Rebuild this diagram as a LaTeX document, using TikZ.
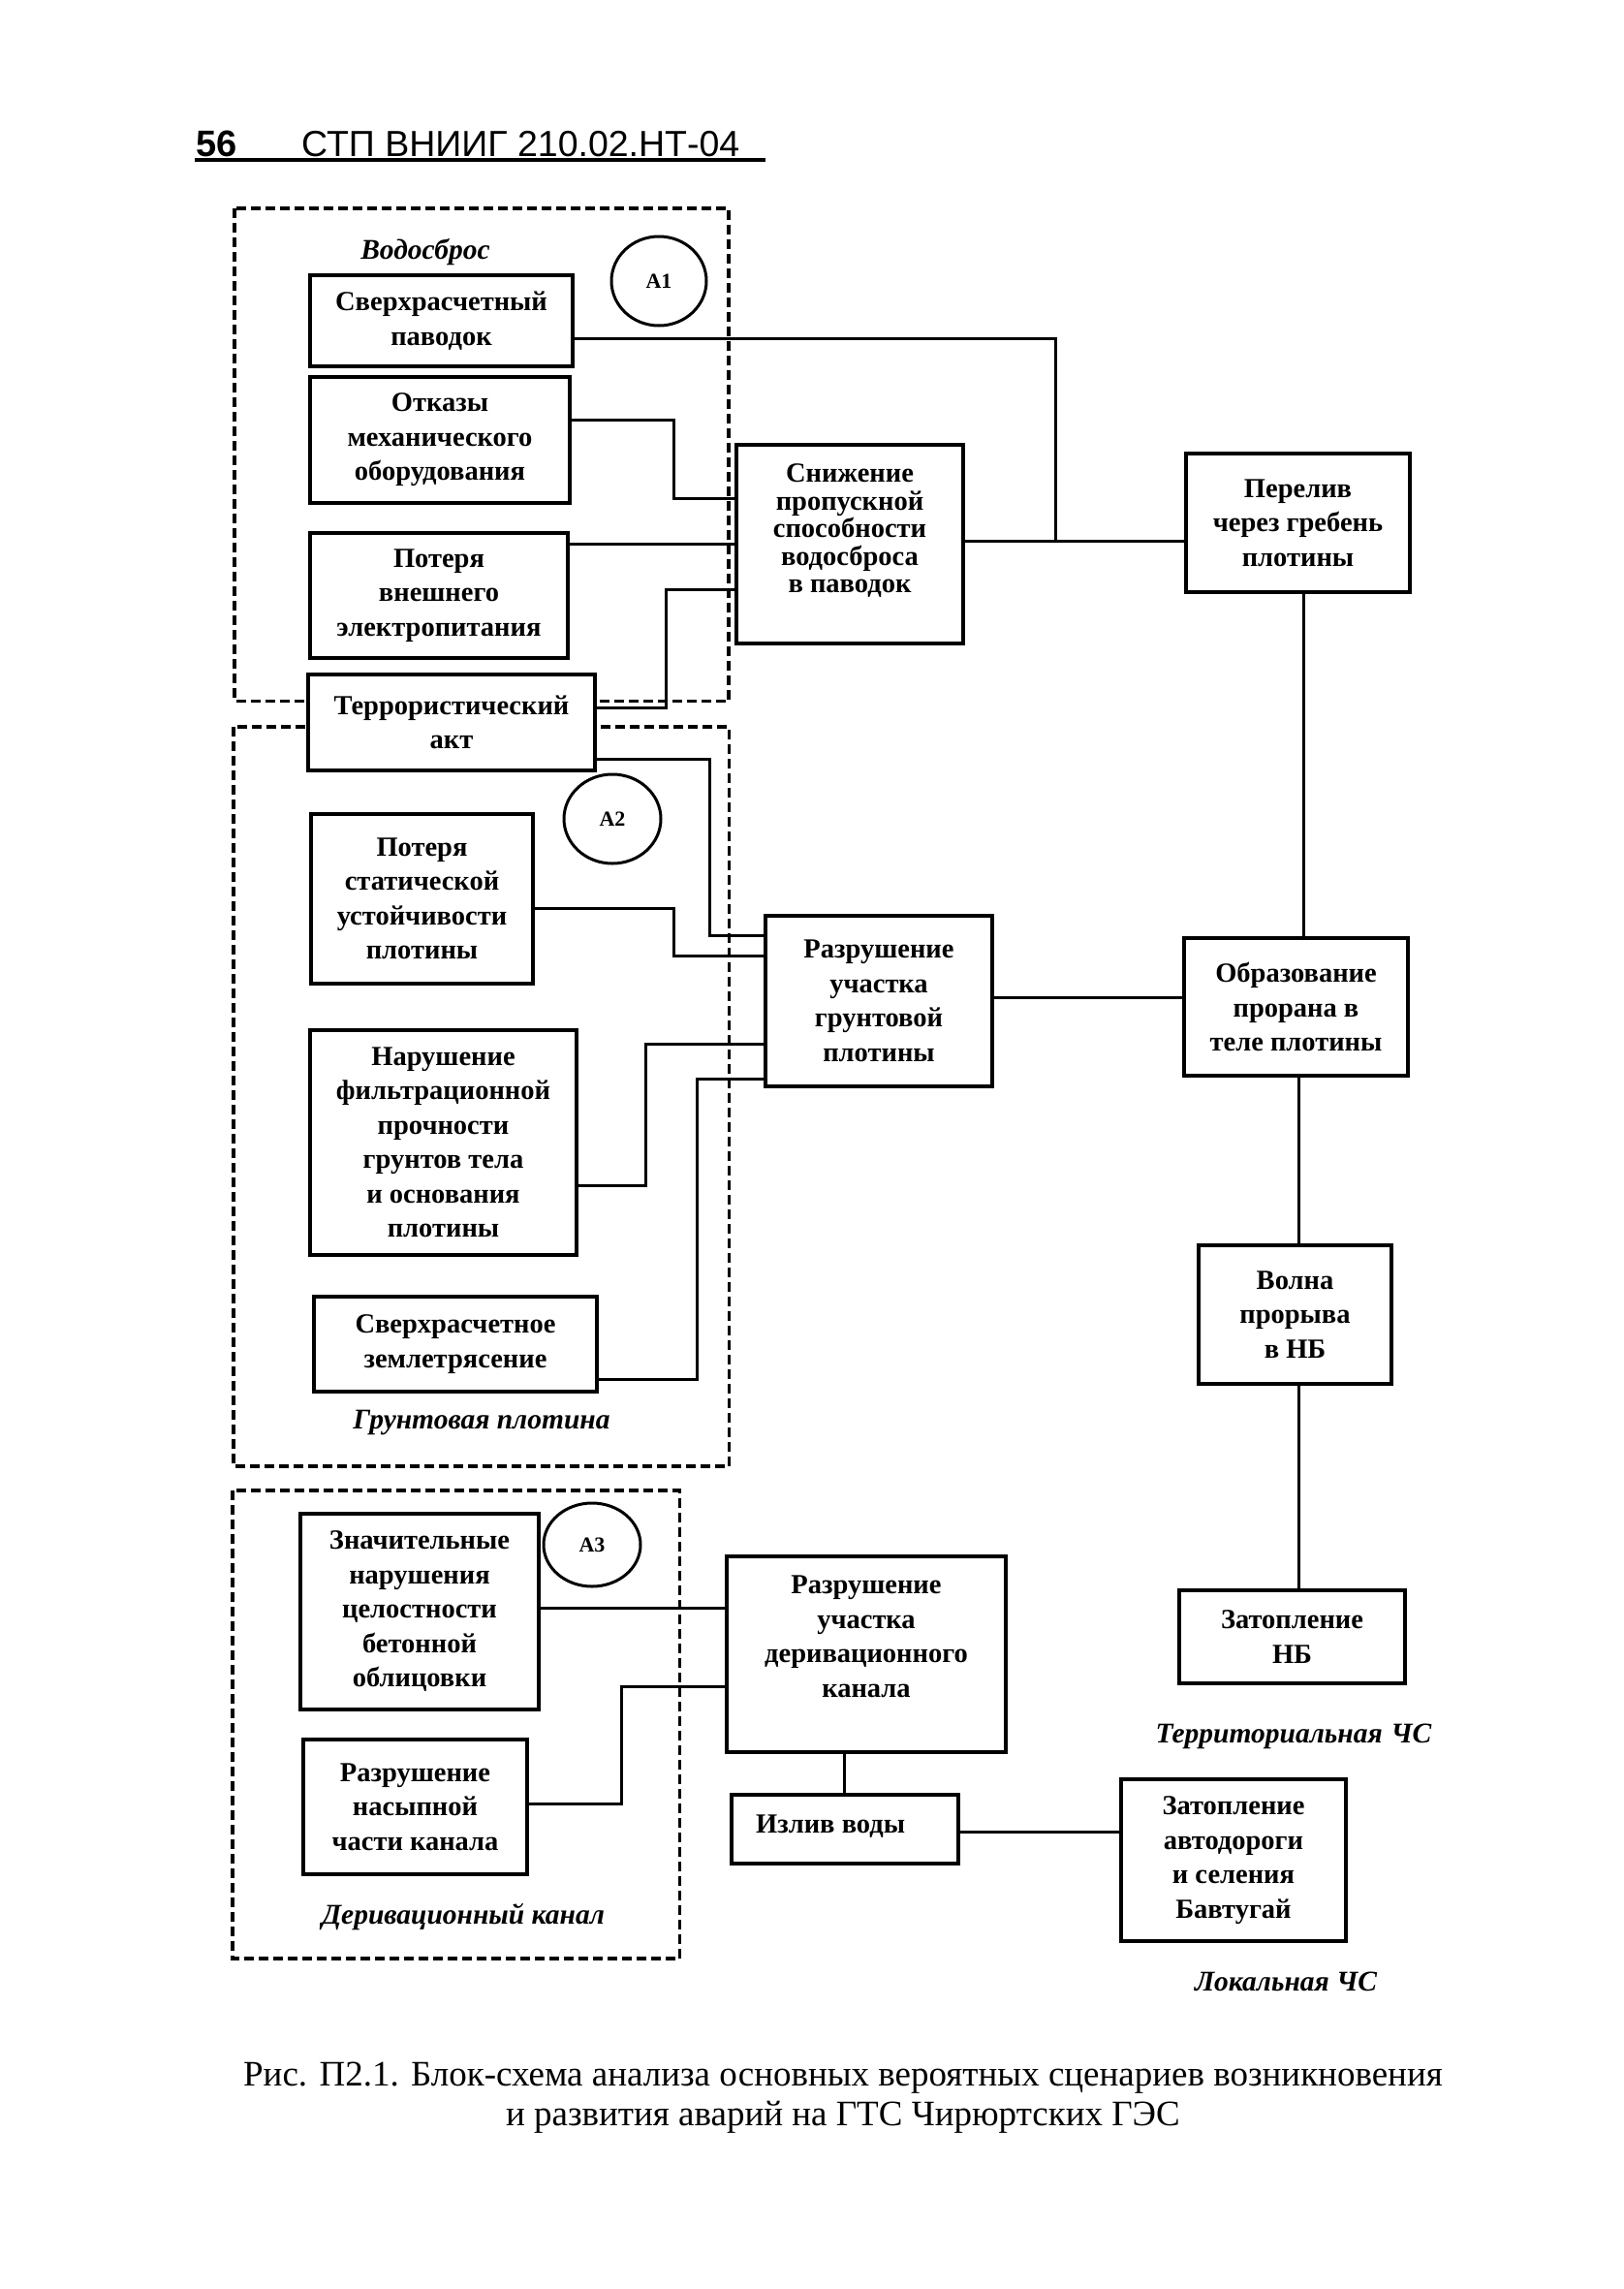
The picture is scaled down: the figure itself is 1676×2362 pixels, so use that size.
\documentclass[tikz,border=0pt]{standalone}
\usepackage{fontspec}
\setmainfont{Liberation Serif}
\newfontfamily\hdrfont{Liberation Sans}
\usetikzlibrary{shapes.geometric}
\newcommand\bxx[6]{\node[boxsty, minimum width={(#4)-(#2)}, minimum height={(#5)-(#3)}] (#1) at ({((#2)+(#4))/2},{((#3)+(#5))/2}) {#6};}
\begin{document}
\begin{tikzpicture}[x=1pt,y=-1pt,
  boxsty/.style={draw, line width=3.5pt, fill=white, inner sep=0pt, align=center, font=\fontsize{28.5}{35.5}\selectfont\bfseries},
  txtsty/.style={inner sep=0pt, align=center, font=\fontsize{28.5}{35.5}\selectfont\bfseries},
  conn/.style={line width=3pt},
  region/.style={draw, line width=3.5pt, dash pattern=on 10pt off 5pt},
  tagsty/.style={draw, ellipse, line width=3pt, inner sep=0pt, font=\fontsize{22}{24}\selectfont\bfseries},
  lbl/.style={inner sep=0pt, font=\fontsize{29.5}{36}\selectfont\bfseries\itshape}
]
\useasboundingbox (0,0) rectangle (1676,2362);
\fill[white] (0,0) rectangle (1676,2362);

% header
\node[anchor=base west, inner sep=0pt, font=\hdrfont\bfseries\fontsize{38}{40}\selectfont] (pg) at (202,161) {56};
\node[anchor=base west, inner sep=0pt, font=\hdrfont\fontsize{37.5}{40}\selectfont] (hd) at (311,161) {СТП ВНИИГ 210.02.НТ-04};
\coordinate (ul) at (790,165);
\draw[line width=4pt] ([yshift=-4pt,xshift=-1pt]pg.base west) -- (ul);

% dashed regions
\draw[region] (242,215) rectangle (752,723.5);
\draw[region] (241,750) rectangle (752.5,1513);
\draw[region] (240,1538) rectangle (701.5,2021);

% region labels
\node[lbl] (lv) at (439,260) {Водосброс};
\node[lbl] (lg) at (497,1468) {Грунтовая плотина};
\node[lbl] (ld) at (478,1978) {Деривационный канал};
\node[lbl] (lt) at (1335,1792) {Территориальная\hspace{0.3em}ЧС};
\node[lbl] (ll) at (1327,2045) {Локальная ЧС};

% tags
\node[tagsty, minimum width=98pt, minimum height=92pt] (a1) at (680,290) {А1};
\node[tagsty, minimum width=100pt, minimum height=92pt] (a2) at (632,845) {А2};
\node[tagsty, minimum width=100pt, minimum height=86pt] (a3) at (611,1594) {А3};

% boxes
\bxx{sv}{320}{284}{591}{378}{Сверхрасчетный\\паводок}
\bxx{ot}{320}{389}{588}{519}{Отказы\\механического\\оборудования}
\bxx{pv}{320}{550}{586}{679}{Потеря\\внешнего\\электропитания}
\bxx{te}{318}{696}{614}{795}{Террористический\\акт}
\bxx{sn}{760}{459}{994}{664}{}
\node[txtsty, font=\fontsize{28.5}{28.5}\selectfont\bfseries] (snt) at (877,548) {Снижение\\пропускной\\способности\\водосброса\\в паводок};
\bxx{pe}{1224}{468}{1455}{611}{Перелив\\через гребень\\плотины}
\bxx{ps}{321}{840}{550}{1015}{Потеря\\статической\\устойчивости\\плотины}
\bxx{na}{320}{1063}{595}{1295}{Нарушение\\фильтрационной\\прочности\\грунтов тела\\и основания\\плотины}
\bxx{zm}{324}{1338}{616}{1436}{Сверхрасчетное\\землетрясение}
\bxx{rg}{790}{945}{1024}{1121}{Разрушение\\участка\\грунтовой\\плотины}
\bxx{ob}{1222}{968}{1453}{1110}{Образование\\прорана в\\теле плотины}
\bxx{vo}{1237}{1285}{1436}{1428}{Волна\\прорыва\\в НБ}
\bxx{zn}{1217}{1641}{1450}{1737}{Затопление\\НБ}
\bxx{zc}{310}{1562}{556}{1764}{Значительные\\нарушения\\целостности\\бетонной\\облицовки}
\bxx{rn}{313}{1795}{544}{1934}{Разрушение\\насыпной\\части канала}
\bxx{rd}{750}{1606}{1038}{1808}{}
\node[txtsty] (rdt) at (894,1689) {Разрушение\\участка\\деривационного\\канала};
\bxx{iz}{755}{1852}{989}{1923}{}
\node[txtsty, anchor=west] (izt) at (780,1885) {Излив воды};
\bxx{za}{1157}{1836}{1389}{2003}{Затопление\\автодороги\\и селения\\Бавтугай}

% connector bends
\coordinate (j1) at (1089,349);
\coordinate (j2) at (1089,558);
\coordinate (k1) at (695,433);
\coordinate (k2) at (695,514);
\coordinate (k3) at (700,561);
\coordinate (k4) at (687,730);
\coordinate (k5) at (687,608);
\coordinate (k6) at (732,783);
\coordinate (k7) at (732,965);
\coordinate (k8) at (695.5,937);
\coordinate (k9) at (695.5,986);
\coordinate (k10) at (666.5,1223);
\coordinate (k11) at (666.5,1077.5);
\coordinate (k12) at (719,1423.5);
\coordinate (k13) at (719,1113);
\coordinate (k14) at (1100,1029);
\coordinate (k15) at (1345,800);
\coordinate (k16) at (1340,1200);
\coordinate (k17) at (650,1659);
\coordinate (k18) at (641,1861);
\coordinate (k19) at (641,1740);
\coordinate (k20) at (871,1830);
\coordinate (k21) at (1070,1890);

% connectors
\draw[conn] (sv.east |- j1) -- (j1) -- (j2);
\draw[conn] (sn.east |- j2) -- (pe.west |- j2);
\draw[conn] (ot.east |- k1) -- (k1) -- (k2) -- (sn.west |- k2);
\draw[conn] (pv.east |- k3) -- (sn.west |- k3);
\draw[conn] (te.east |- k4) -- (k4) -- (k5) -- (sn.west |- k5);
\draw[conn] (te.east |- k6) -- (k6) -- (k7) -- (rg.west |- k7);
\draw[conn] (ps.east |- k8) -- (k8) -- (k9) -- (rg.west |- k9);
\draw[conn] (na.east |- k10) -- (k10) -- (k11) -- (rg.west |- k11);
\draw[conn] (zm.east |- k12) -- (k12) -- (k13) -- (rg.west |- k13);
\draw[conn] (rg.east |- k14) -- (ob.west |- k14);
\draw[conn] (pe.south -| k15) -- (ob.north -| k15);
\draw[conn] (ob.south -| k16) -- (vo.north -| k16);
\draw[conn] (vo.south -| k16) -- (zn.north -| k16);
\draw[conn] (zc.east |- k17) -- (rd.west |- k17);
\draw[conn] (rn.east |- k18) -- (k18) -- (k19) -- (rd.west |- k19);
\draw[conn] (rd.south -| k20) -- (iz.north -| k20);
\draw[conn] (iz.east |- k21) -- (za.west |- k21);

% caption
\node[anchor=base, inner sep=0pt, font=\fontsize{37}{40}\selectfont] (cap1) at (870,2152) {Рис. П2.1. Блок-схема анализа основных вероятных сценариев возникновения};
\node[anchor=base, inner sep=0pt, font=\fontsize{37}{40}\selectfont] (cap2) at (870,2193) {и развития аварий на ГТС Чирюртских ГЭС};
\end{tikzpicture}
\end{document}
